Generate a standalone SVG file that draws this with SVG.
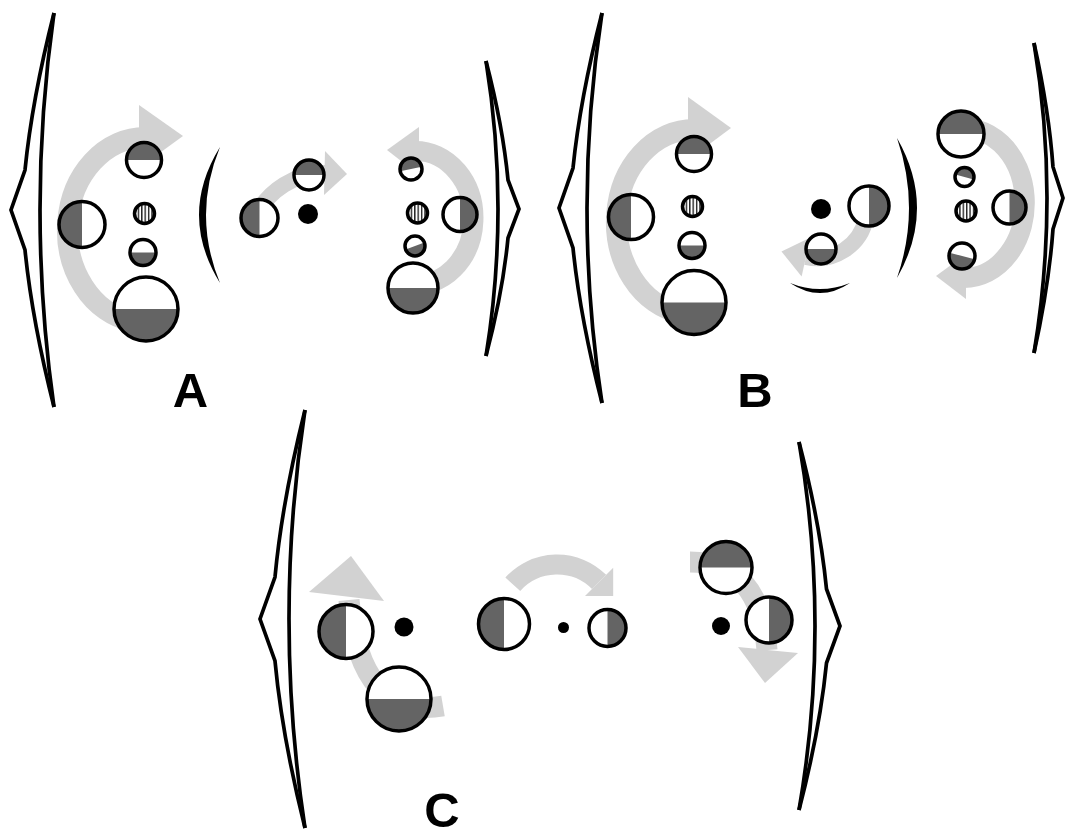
<svg xmlns="http://www.w3.org/2000/svg" width="1065" height="833" viewBox="0 0 1065 833">
<style>
.br{fill:none;stroke:#000;stroke-width:3.7;stroke-linejoin:miter}
.cr{fill:#000}
.arr{fill:none;stroke:#d2d2d2}
.ah{fill:#d2d2d2}
.w{fill:#fff}
.d{fill:#646464}
.o{fill:none;stroke:#000;stroke-width:3.5}
.h{fill:url(#hatch);stroke:#000;stroke-width:3.5}
.dot{fill:#000}
.lbl{font-family:"Liberation Sans",Arial,sans-serif;font-weight:bold;font-size:49px;text-anchor:middle;fill:#000}
</style>
<defs>
<pattern id="hatch" width="3.4" height="10" patternUnits="userSpaceOnUse">
<rect width="3.4" height="10" fill="#fff"/>
<rect width="1.4" height="10" fill="#222"/>
</pattern>
</defs>
<rect width="1065" height="833" fill="#fff"/>

<g id="brackets">
<g id="a-left-bracket"><path class="br" d="M54,13 Q32,100 25,170 L11,210 L25,250 Q32,320 54,407"/><path class="br" d="M54,13 Q26,210 54,407"/></g>
<g id="a-right-bracket"><path class="br" d="M486,61 Q503,127 508,180 L519,209 L508,238 Q503,291 486,356"/><path class="br" d="M486,61 Q510,209 486,356"/></g>
<g id="b-left-bracket"><path class="br" d="M602,13 Q580,99 573,168 L559,208 L573,248 Q580,317 602,403"/><path class="br" d="M602,13 Q572,208 602,403"/></g>
<g id="b-right-bracket"><path class="br" d="M1034,43 Q1049,111 1053,167 L1063,198 L1053,229 Q1049,285 1034,353"/><path class="br" d="M1034,43 Q1060,198 1034,353"/></g>
<g id="c-left-bracket"><path class="br" d="M305,410 Q282,502 275,577 L260,619 L275,661 Q282,736 305,828"/><path class="br" d="M305,410 Q273,619 305,828"/></g>
<g id="c-right-bracket"><path class="br" d="M799,442 Q820,523 826.5,589 L840,626 L826.5,663 Q820,729 799,810"/><path class="br" d="M799,442 Q831,626 799,810"/></g>
<path id="a-crescent" class="cr" d="M220,147 Q178,215 220,283 Q192,215 220,147 Z"/>
<path id="b-crescent" class="cr" d="M897,138 Q937,208 897,278 Q921,208 897,138 Z"/>
<path id="b-crescent-bottom" class="cr" d="M790,283 Q820,303 850,283 Q820,295 790,283 Z"/>
</g>

<g id="arrows">
<g id="arrow-a-left"><path class="arr" stroke-width="21" d="M131.5,321.1 A77.5,92.5 0 0 1 145,137.5"/><polygon class="ah" points="139,105 183,136 139,168"/></g>
<g id="arrow-a-mid"><path class="arr" stroke-width="16" d="M255,217 A78,78 0 0 1 326,173"/><polygon class="ah" points="325,151 347,174 324,195"/></g>
<g id="arrow-a-right"><path class="arr" stroke-width="20" d="M410,284.7 A58,67 0 1 0 415,151"/><polygon class="ah" points="419,127 387,150 419,175"/></g>
<g id="arrow-b-left"><path class="arr" stroke-width="21" d="M680.5,313.1 A77.5,92.5 0 0 1 694,129.5"/><polygon class="ah" points="688,97 731,128 688,160"/></g>
<g id="arrow-b-mid"><path class="arr" stroke-width="16" d="M866,218 A50,50 0 0 1 806,257"/><polygon class="ah" points="810.4,237.4 781.5,251.5 801.6,276.6"/></g>
<g id="arrow-b-right"><path class="arr" stroke-width="20" d="M953.4,129.1 A61,75 0 1 1 964,278"/><polygon class="ah" points="966,254 936,276 966,299"/></g>
<g id="arrow-c-left"><path class="arr" stroke-width="21" d="M443,706 Q360,720 349,600"/><polygon class="ah" points="309,592 351,556 384,601"/></g>
<g id="arrow-c-mid"><path class="arr" stroke-width="20" d="M512.8,584.2 A59.5,59.5 0 0 1 599.1,581.9"/><polygon class="ah" points="613.2,567.8 613.2,596 585,596"/></g>
<g id="arrow-c-right"><path class="arr" stroke-width="21" d="M690,562 Q760,562 767,650"/><polygon class="ah" points="738,647 765,683 798,653"/></g>
</g>

<g id="panel-a">
<g id="a1" transform="translate(144,160)"><circle class="w" r="17.5"/><path class="d" d="M-17.5,0A17.5,17.5 0 0 1 17.5,0Z"/><circle class="o" r="17.5"/></g>
<g id="a2" transform="translate(82,224.5)"><circle class="w" r="23"/><path class="d" d="M0,-23A23,23 0 0 0 0,23Z"/><circle class="o" r="23"/></g>
<g id="a3" transform="translate(144.5,213.5)"><circle class="h" r="10"/></g>
<g id="a4" transform="translate(143,252.5)"><circle class="w" r="13"/><path class="d" d="M-13,0A13,13 0 0 0 13,0Z"/><circle class="o" r="13"/></g>
<g id="a5" transform="translate(146,309)"><circle class="w" r="32"/><path class="d" d="M-32,0A32,32 0 0 0 32,0Z"/><circle class="o" r="32"/></g>
<g id="a6" transform="translate(259.5,218)"><circle class="w" r="18.5"/><path class="d" d="M0,-18.5A18.5,18.5 0 0 0 0,18.5Z"/><circle class="o" r="18.5"/></g>
<g id="a7"><circle class="dot" cx="308" cy="214" r="10"/></g>
<g id="a8" transform="translate(309,175)"><circle class="w" r="15"/><path class="d" d="M-15,0A15,15 0 0 1 15,0Z"/><circle class="o" r="15"/></g>
<g id="a9" transform="translate(411,169)"><circle class="w" r="11"/><path class="d" transform="rotate(-12)" d="M-11,0A11,11 0 0 1 11,0Z"/><circle class="o" r="11"/></g>
<g id="a10" transform="translate(417.5,213)"><circle class="h" r="10"/></g>
<g id="a11" transform="translate(460,214.5)"><circle class="w" r="17"/><path class="d" d="M0,-17A17,17 0 0 1 0,17Z"/><circle class="o" r="17"/></g>
<g id="a12" transform="translate(415,246)"><circle class="w" r="10"/><path class="d" transform="rotate(-20)" d="M-10,0A10,10 0 0 0 10,0Z"/><circle class="o" r="10"/></g>
<g id="a13" transform="translate(413,288)"><circle class="w" r="25"/><path class="d" d="M-25,0A25,25 0 0 0 25,0Z"/><circle class="o" r="25"/></g>
<text id="label-a" class="lbl" x="190.5" y="407">A</text>
</g>

<g id="panel-b">
<g id="b1" transform="translate(694,154)"><circle class="w" r="17.5"/><path class="d" d="M-17.5,0A17.5,17.5 0 0 1 17.5,0Z"/><circle class="o" r="17.5"/></g>
<g id="b2" transform="translate(631,217)"><circle class="w" r="22.5"/><path class="d" d="M0,-22.5A22.5,22.5 0 0 0 0,22.5Z"/><circle class="o" r="22.5"/></g>
<g id="b3" transform="translate(692.5,206.5)"><circle class="h" r="10"/></g>
<g id="b4" transform="translate(692,245.5)"><circle class="w" r="13"/><path class="d" d="M-13,0A13,13 0 0 0 13,0Z"/><circle class="o" r="13"/></g>
<g id="b5" transform="translate(694,302.5)"><circle class="w" r="32"/><path class="d" d="M-32,0A32,32 0 0 0 32,0Z"/><circle class="o" r="32"/></g>
<g id="b6"><circle class="dot" cx="821" cy="209" r="10"/></g>
<g id="b7" transform="translate(869,206)"><circle class="w" r="20"/><path class="d" d="M0,-20A20,20 0 0 1 0,20Z"/><circle class="o" r="20"/></g>
<g id="b8" transform="translate(821,249)"><circle class="w" r="15"/><path class="d" d="M-15,0A15,15 0 0 0 15,0Z"/><circle class="o" r="15"/></g>
<g id="b9" transform="translate(961,134)"><circle class="w" r="23"/><path class="d" d="M-23,0A23,23 0 0 1 23,0Z"/><circle class="o" r="23"/></g>
<g id="b10" transform="translate(964.5,177)"><circle class="w" r="9.5"/><path class="d" transform="rotate(15)" d="M-9.5,0A9.5,9.5 0 0 1 9.5,0Z"/><circle class="o" r="9.5"/></g>
<g id="b11" transform="translate(966,211)"><circle class="h" r="10"/></g>
<g id="b12" transform="translate(1009.5,207.5)"><circle class="w" r="16.5"/><path class="d" d="M0,-16.5A16.5,16.5 0 0 1 0,16.5Z"/><circle class="o" r="16.5"/></g>
<g id="b13" transform="translate(962,256)"><circle class="w" r="13"/><path class="d" transform="rotate(15)" d="M-13,0A13,13 0 0 0 13,0Z"/><circle class="o" r="13"/></g>
<text id="label-b" class="lbl" x="755" y="407">B</text>
</g>

<g id="panel-c">
<g id="c1" transform="translate(346,631.5)"><circle class="w" r="27"/><path class="d" d="M0,-27A27,27 0 0 0 0,27Z"/><circle class="o" r="27"/></g>
<g id="c2"><circle class="dot" cx="404" cy="627" r="9.5"/></g>
<g id="c3" transform="translate(399,699)"><circle class="w" r="32"/><path class="d" d="M-32,0A32,32 0 0 0 32,0Z"/><circle class="o" r="32"/></g>
<g id="c4" transform="translate(504,624)"><circle class="w" r="25.5"/><path class="d" d="M0,-25.5A25.5,25.5 0 0 0 0,25.5Z"/><circle class="o" r="25.5"/></g>
<g id="c5"><circle class="dot" cx="563.5" cy="627.5" r="5.5"/></g>
<g id="c6" transform="translate(607.5,628)"><circle class="w" r="18.5"/><path class="d" d="M0,-18.5A18.5,18.5 0 0 1 0,18.5Z"/><circle class="o" r="18.5"/></g>
<g id="c7" transform="translate(726,567.5)"><circle class="w" r="26"/><path class="d" d="M-26,0A26,26 0 0 1 26,0Z"/><circle class="o" r="26"/></g>
<g id="c8"><circle class="dot" cx="721" cy="626" r="9"/></g>
<g id="c9" transform="translate(769,620)"><circle class="w" r="23"/><path class="d" d="M0,-23A23,23 0 0 1 0,23Z"/><circle class="o" r="23"/></g>
<text id="label-c" class="lbl" x="442" y="827">C</text>
</g>
</svg>
